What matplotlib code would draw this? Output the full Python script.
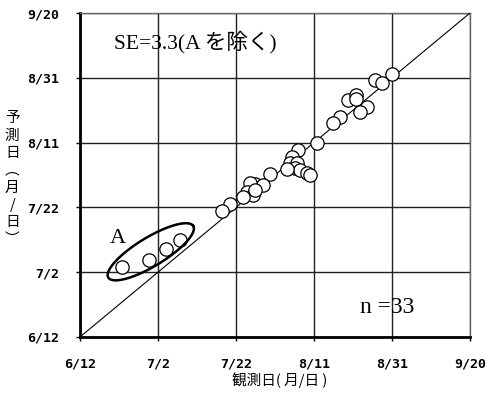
import numpy as np
import matplotlib
matplotlib.use("Agg")
import matplotlib.pyplot as plt

# 観測日 / 予測日 (通日: 6/12 = 163)
obs = [242.9, 238.6, 240.4, 231.8, 233.9, 233.9, 236.5, 234.8, 229.7, 227.9,
       223.7, 219.0, 217.3, 216.8, 218.6, 218.1, 219.4, 221.1, 222.0, 216.0,
       211.7, 207.9, 206.6, 205.7, 207.4, 204.9, 210.0, 207.9, 201.5, 199.3]
pred = [244.2, 242.3, 241.3, 236.1, 237.7, 236.4, 234.1, 232.5, 231.0, 229.0,
        222.8, 220.7, 218.6, 216.6, 216.6, 215.1, 214.5, 213.5, 213.0, 215.0,
        213.3, 210.2, 210.6, 207.8, 206.8, 206.3, 209.9, 208.4, 204.0, 201.9]
# 外れ群 A
obs_a = [173.7, 180.8, 185.0, 188.6]
pred_a = [184.5, 186.8, 190.2, 193.0]

ticks = [163, 183, 203, 223, 243, 263]
tick_labels = ["6/12", "7/2", "7/22", "8/11", "8/31", "9/20"]

serif = ["Liberation Serif", "Noto Sans CJK JP"]
gothic = ["Noto Sans CJK JP", "DejaVu Sans"]

fig = plt.figure(figsize=(4.89, 3.94), dpi=100)
ax = fig.add_axes([0.1636, 0.1447, 0.7975, 0.8223])

ax.set_xlim(163, 263)
ax.set_ylim(163, 263)
ax.set_xticks(ticks)
ax.set_yticks(ticks)
ax.set_xticklabels(tick_labels, family="DejaVu Sans Mono", weight="bold", fontsize=9.5)
ax.set_yticklabels(tick_labels, family="DejaVu Sans Mono", weight="bold", fontsize=9.5)
ax.tick_params(direction="out", length=3, width=1, pad=12)
ax.grid(True, color="#222222", linewidth=1)
ax.set_axisbelow(True)

for s in ["left", "bottom"]:
    ax.spines[s].set_linewidth(2)
    ax.spines[s].set_color("black")
for s in ["top", "right"]:
    ax.spines[s].set_linewidth(1)
    ax.spines[s].set_color("#666666")

# 1:1 line
ax.plot([163, 263], [163, 263], color="black", linewidth=0.8, zorder=3)

ax.plot(obs, pred, "o", ms=9.6, mfc="white", mec="black", mew=0.9, zorder=4)
ax.plot(obs_a, pred_a, "o", ms=9.6, mfc="white", mec="black", mew=0.9, zorder=4)

# ellipse around A
t = np.linspace(0, 2 * np.pi, 200)
cx, cy = 181.15, 189.3
ex = cx + 10.9 * np.cos(t) - 1.9 * np.sin(t)
ey = cy + 7.96 * np.cos(t) + 3.8 * np.sin(t)
ax.plot(ex, ey, color="black", linewidth=1.8, zorder=5)

ax.text(172.6, 193.3, "A", family=serif, fontsize=16, ha="center", va="center")
ax.text(171.8, 254.0, "SE=3.3(A を除く)", family=serif, fontsize=15.5, va="center")
ax.text(234.8, 172, "n =33", family=serif, fontsize=17, va="center")

fig.text(0.5726, 0.035, "観測日( 月/日 )", family=gothic, fontsize=10.5, ha="center", va="center")
fig.text(0.025, 0.546, "予\n測\n日\n︵\n月\n/\n日\n︶", family=gothic, fontsize=10.5,
         ha="center", va="center", linespacing=1.3)

fig.savefig("out.png", dpi=100)
